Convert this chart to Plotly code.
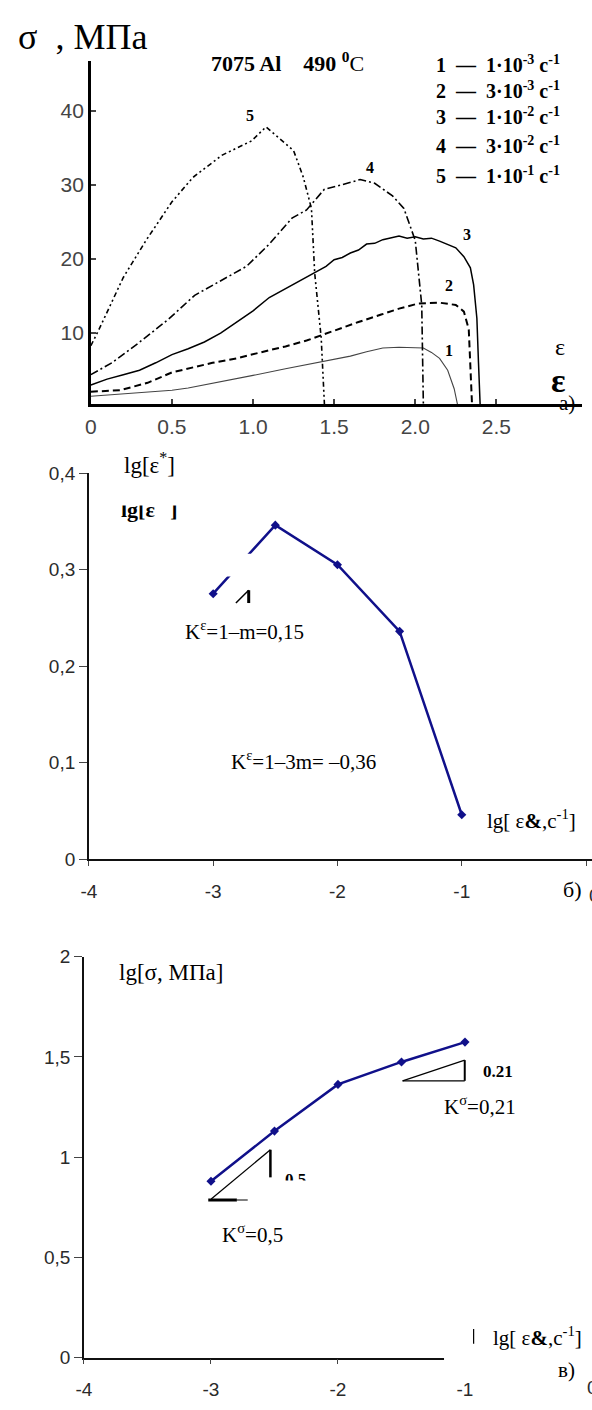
import plotly.graph_objects as go

# ---------------- data ----------------
# panel a) : true stress-strain curves, 7075 Al, 490 C
eps1 = [0, 0.2, 0.4, 0.5, 0.6, 0.8, 1.0, 1.2, 1.4, 1.5, 1.6, 1.7, 1.8, 1.9, 2.0, 2.05, 2.1, 2.15, 2.2, 2.24, 2.26]
sig1 = [1.5, 1.8, 2.1, 2.3, 2.6, 3.4, 4.3, 5.2, 6.0, 6.5, 6.9, 7.5, 8.0, 8.1, 8.0, 8.0, 7.4, 6.6, 5.0, 2.5, 0.44]

eps2 = [0, 0.18, 0.35, 0.5, 0.75, 0.9, 1.1, 1.2, 1.33, 1.49, 1.65, 1.79, 1.9, 2.02, 2.15, 2.25, 2.3, 2.33, 2.34, 2.35]
sig2 = [2.1, 2.3, 3.3, 4.7, 6.0, 6.6, 7.7, 8.2, 9.0, 10.3, 11.5, 12.5, 13.3, 14.0, 14.1, 13.8, 12.9, 10.5, 6.0, 0.44]

eps3 = [0, 0.05, 0.1, 0.2, 0.3, 0.4, 0.5, 0.6, 0.7, 0.8, 0.9, 1.0, 1.1, 1.2, 1.3, 1.4, 1.45, 1.5, 1.55,
        1.6, 1.65, 1.7, 1.75, 1.8, 1.85, 1.9, 1.95, 2.0, 2.05, 2.1, 2.15, 2.2, 2.25, 2.3, 2.34, 2.36, 2.38, 2.39, 2.40]
sig3 = [3.0, 3.4, 3.8, 4.4, 5.0, 6.0, 7.1, 7.9, 8.8, 10.0, 11.5, 13.0, 14.8, 16.0, 17.3, 18.5, 19.0, 19.9, 20.2,
        20.8, 21.2, 22.0, 22.1, 22.6, 22.8, 23.1, 22.8, 23.0, 22.7, 22.8, 22.4, 22.0, 21.5, 20.3, 18.8, 16.5, 12.0, 6.0, 0.44]

eps4 = [0, 0.13, 0.29, 0.48, 0.64, 0.78, 0.96, 1.1, 1.24, 1.33, 1.44, 1.55, 1.66, 1.75, 1.86, 1.93, 2.0, 2.04, 2.05]
sig4 = [4.4, 6.0, 8.6, 11.9, 15.1, 16.8, 19.0, 22.0, 25.5, 26.6, 29.4, 30.0, 30.7, 30.2, 28.5, 26.8, 22.5, 13.8, 0.44]

eps5 = [0, 0.05, 0.2, 0.34, 0.5, 0.63, 0.81, 0.99, 1.08, 1.25, 1.31, 1.36, 1.38, 1.42, 1.44]
sig5 = [8.3, 10.5, 17.5, 22.5, 27.7, 31.0, 34.0, 35.9, 37.8, 34.6, 31.0, 26.8, 18.1, 9.4, 0.44]

curve_names = ["1", "2", "3", "4", "5"]
rate_mant = ["1", "3", "1", "3", "1"]
rate_exp = ["-3", "-3", "-2", "-2", "-1"]

# panels b) and c)
lg_rate = [-3.0, -2.5, -2.0, -1.5, -1.0]
lg_eps_star = [0.275, 0.346, 0.305, 0.236, 0.046]
lg_sigma = [0.88, 1.13, 1.363, 1.475, 1.574]

a_xticks = [0, 0.5, 1.0, 1.5, 2.0, 2.5]
a_xtext = ["0", "0.5", "1.0", "1.5", "2.0", "2.5"]
a_yticks = [10, 20, 30, 40]
b_yticks = [0, 0.1, 0.2, 0.3, 0.4]
b_ytext = ["0", "0,1", "0,2", "0,3", "0,4"]
c_yticks = [0, 0.5, 1.0, 1.5, 2.0]
c_ytext = ["0", "0,5", "1", "1,5", "2"]
bc_xticks = [-4, -3, -2, -1, 0]
bc_xtext = ["-4", "-3", "-2", "-1", ""]

# ---------------- helpers ----------------
W, H = 592, 1410
SERIF = "Liberation Serif"
SANS = "Liberation Sans"
NAVY = "#10108a"


def PX(x):
    return x / W


def PY(y):
    return 1 - y / H


fig = go.Figure()

styles = [
    dict(color="#444444", width=1.1, dash="solid"),
    dict(color="black", width=2.0, dash="7px,4px"),
    dict(color="black", width=1.5, dash="solid"),
    dict(color="black", width=1.6, dash="8px,3px,2px,3px"),
    dict(color="black", width=1.6, dash="5px,3px,2px,3px,2px,3px"),
]
for ex, sy, st in zip([eps1, eps2, eps3, eps4, eps5], [sig1, sig2, sig3, sig4, sig5], styles):
    fig.add_trace(go.Scatter(x=ex, y=sy, mode="lines", line=st, xaxis="x", yaxis="y",
                             showlegend=False, hoverinfo="skip"))

fig.add_trace(go.Scatter(x=lg_rate, y=lg_eps_star, mode="lines+markers", xaxis="x2", yaxis="y2",
                         line=dict(color=NAVY, width=2.5),
                         marker=dict(symbol="diamond", size=7, color=NAVY), showlegend=False))
fig.add_trace(go.Scatter(x=lg_rate, y=lg_sigma, mode="lines+markers", xaxis="x3", yaxis="y3",
                         line=dict(color=NAVY, width=2.5),
                         marker=dict(symbol="diamond", size=7, color=NAVY), showlegend=False))

tickfont_a = dict(family=SANS, size=21, color="#444444")
tickfont_bc = dict(family=SANS, size=19, color="#2a2a2a")

fig.update_layout(
    width=W, height=H, margin=dict(l=0, r=0, t=0, b=0),
    paper_bgcolor="white", plot_bgcolor="white",
    xaxis=dict(domain=[PX(84), PX(582)], range=[0, 3.029], anchor="y",
               tickvals=a_xticks, ticktext=a_xtext, ticks="inside", ticklen=5, tickwidth=2,
               showline=True, linecolor="black", linewidth=2.5, showgrid=False, zeroline=False,
               tickfont=tickfont_a, ticklabelstandoff=2),
    yaxis=dict(domain=[PY(400), PY(52)], range=[0.44, 46.65], anchor="x",
               tickvals=a_yticks, ticks="inside", ticklen=5, tickwidth=2,
               showline=True, linecolor="black", linewidth=2.5, showgrid=False, zeroline=False,
               tickfont=tickfont_a),
    xaxis2=dict(domain=[PX(82), 1.0], range=[-4, 0.048], anchor="y2",
                tickvals=bc_xticks, ticktext=bc_xtext, ticks="outside", ticklen=5, tickwidth=1.2,
                showline=True, linecolor="#111", linewidth=1.6, showgrid=False, zeroline=False,
                tickfont=tickfont_bc, ticklabelstandoff=9),
    yaxis2=dict(domain=[PY(862), PY(470)], range=[0, 0.4], anchor="x2",
                tickvals=b_yticks, ticktext=b_ytext, ticks="outside", ticklen=8, tickwidth=1.2,
                showline=True, linecolor="#111", linewidth=1.6, showgrid=False, zeroline=False,
                tickfont=tickfont_bc),
    xaxis3=dict(domain=[PX(77), 1.0], range=[-4, 0.0], anchor="y3",
                tickvals=bc_xticks, ticktext=bc_xtext, ticks="outside", ticklen=5, tickwidth=1.2,
                showline=True, linecolor="#111", linewidth=1.6, showgrid=False, zeroline=False,
                tickfont=tickfont_bc, ticklabelstandoff=9),
    yaxis3=dict(domain=[PY(1368), PY(961)], range=[0, 2.0], anchor="x3",
                tickvals=c_yticks, ticktext=c_ytext, ticks="outside", ticklen=8, tickwidth=1.2,
                showline=True, linecolor="#111", linewidth=1.6, showgrid=False, zeroline=False,
                tickfont=tickfont_bc),
)

anns = []


def ann(text, x, y, size, xanchor="left", family=SERIF, color="black", bg=None, w=None, h=None):
    d = dict(text=text, x=PX(x), y=PY(y), xref="paper", yref="paper", xanchor=xanchor,
             yanchor="middle", showarrow=False, font=dict(family=family, size=size, color=color))
    if bg is not None:
        d["bgcolor"] = bg
    if w is not None:
        d["width"] = w
    if h is not None:
        d["height"] = h
    anns.append(d)


NB = "\u00a0"
# panel a
ann("σ" + NB * 2 + "," + NB + "МПа", 8, 27, 36)
ann("<b>7075 Al" + NB * 4 + "490 <sup>0</sup></b>C", 204, 53, 22)
leg_y = [55, 81, 108, 137, 168]
for n, m, e, yy in zip(curve_names, rate_mant, rate_exp, leg_y):
    ann(f"<b>{n}{NB}{NB}—{NB}{NB}{m}·10<sup>{e}</sup>{NB}c<sup>-1</sup></b>", 432, yy, 20)

label_pos = [(2.21, 7.7), (2.21, 16.4), (2.32, 23.3), (1.72, 32.3), (0.98, 39.3)]
for n, (lx, ly) in zip(curve_names, label_pos):
    anns.append(dict(text=f"<b>{n}</b>", x=lx, y=ly, xref="x", yref="y", showarrow=False,
                     xanchor="center", yanchor="middle", font=dict(family=SERIF, size=16, color="black")))

ann("ε", 560, 342, 24, xanchor="center")
ann("<b>ε</b>", 558, 376, 34, xanchor="center")
ann("a)", 567, 399, 21, xanchor="center")

# panel b
ann("lg[ε<sup>*</sup>]", 143, 460, 23, xanchor="center")
ann("<b>lg[ε<sup>**</sup>]</b>", 143, 506, 22, xanchor="center")
ann(" ", 143, 492, 6, xanchor="center", bg="white", w=90, h=18)
ann("K<sup>ε</sup>=1–m=0,15", 177, 630, 21, bg="white")
ann("K<sup>ε</sup>=1–3m= –0,36", 224, 762, 21, bg="white")
ann("lg[ ε<b>&</b>,c<sup>-1</sup>]", 484, 822, 21)
ann("б)", 561, 893, 22)
ann("0", 587, 899, 19, xanchor="left", family=SANS, color="#2a2a2a")

# panel c
ann("lg[σ, МПа]", 110, 977, 23)
ann("<b>0.21</b>", 479, 1078, 17)
ann("K<sup>σ</sup>=0,21", 440, 1112, 21)
ann("<b>0.5</b>", 279, 1187, 17)
ann(" ", 295, 1197, 6, xanchor="center", bg="white", w=50, h=14)
ann("K<sup>σ</sup>=0,5", 215, 1242, 21)
ann("lg[ ε<b>&</b>,c<sup>-1</sup>]", 490, 1347, 21)
ann("в)", 555, 1381, 21)
ann("0", 585, 1398, 19, xanchor="left", family=SANS, color="#2a2a2a")

fig.update_layout(annotations=anns)

shapes = []


def line(x0, y0, x1, y1, w=1.2, color="black"):
    shapes.append(dict(type="line", xref="paper", yref="paper", x0=PX(x0), y0=PY(y0), x1=PX(x1), y1=PY(y1),
                       line=dict(color=color, width=w), layer="above"))


def rect(x0, y0, x1, y1):
    shapes.append(dict(type="rect", xref="paper", yref="paper", x0=PX(x0), y0=PY(y0), x1=PX(x1), y1=PY(y1),
                       fillcolor="white", line=dict(width=0), layer="above"))


# panel b artefacts: white patch over line and partial slope triangle
rect(220, 552, 265, 575)
line(231, 602, 244, 589, 1.5)
line(244, 589, 244, 602, 3)

# panel c slope triangles
line(400, 1087, 463, 1087, 1.2)
line(463, 1087, 463, 1066, 2)
line(400, 1087, 463, 1066, 1.2)
line(206, 1207, 266, 1157, 1.3)
line(266, 1157, 266, 1185, 2.5)
line(203, 1208, 232, 1208, 3)
line(232, 1208, 243, 1208, 1)
# white patch hiding the right end of the x axis of panel c
rect(442, 1332, 592, 1380)
line(472, 1339, 472, 1354, 1.2)

fig.update_layout(shapes=shapes)

fig.write_html("out.html", config={"displayModeBar": False},
               post_script="document.body.style.margin='0';document.body.style.padding='0';")
